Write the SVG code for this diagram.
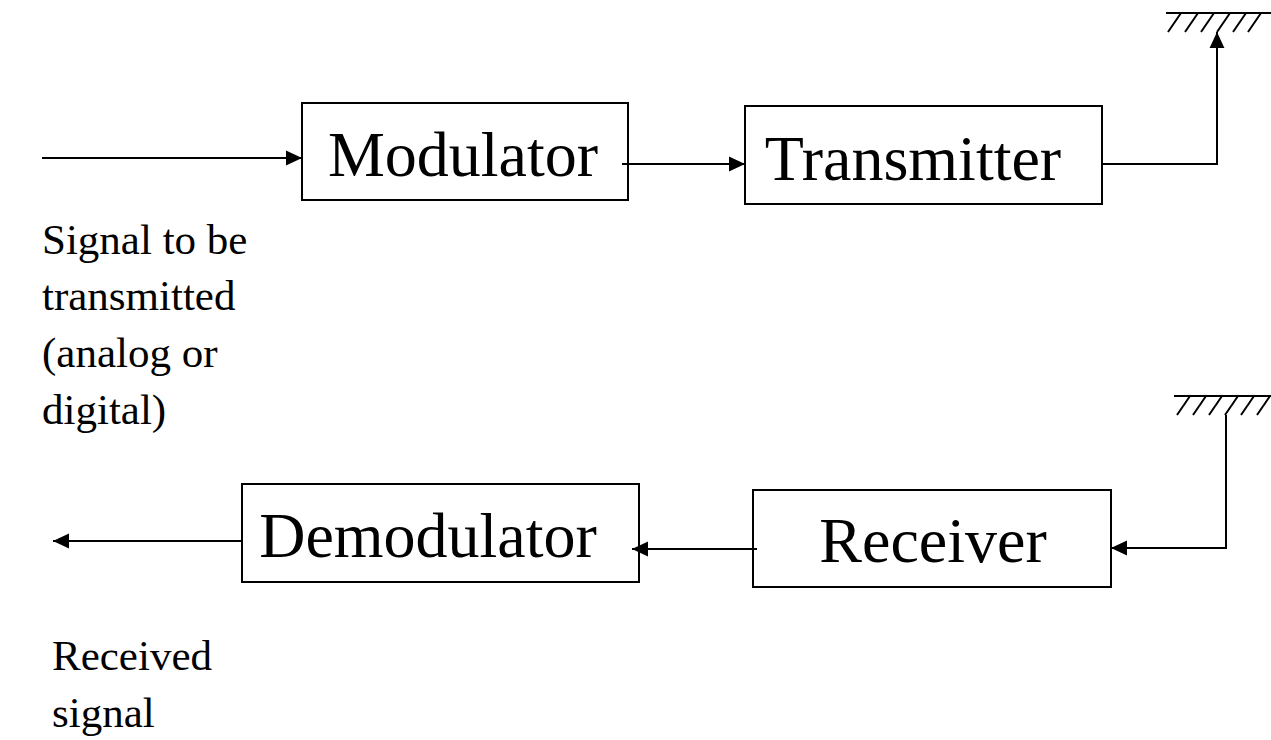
<svg xmlns="http://www.w3.org/2000/svg" width="1271" height="740" viewBox="0 0 1271 740">
  <defs>
    <marker id="arrow" markerUnits="userSpaceOnUse" markerWidth="16" markerHeight="16" viewBox="0 0 14 14" refX="14" refY="7" orient="auto">
      <path d="M0,0.5 L14,7 L0,13.5 Z" fill="#000"/>
    </marker>
  </defs>
  <style>
    .box { fill: #fff; stroke: #000; stroke-width: 2; }
    .label { font-family: "Liberation Serif", "Times New Roman", serif; font-size: 64px; fill: #000; text-anchor: middle; }
    .note { font-family: "Liberation Serif", "Times New Roman", serif; font-size: 43px; fill: #000; }
    .wire { fill: none; stroke: #000; stroke-width: 2; }
    .hatch { fill: none; stroke: #000; stroke-width: 2; }
  </style>
  <rect width="1271" height="740" fill="#fff"/>

  <!-- transmit chain -->
  <g id="modulator">
    <rect class="box" x="302" y="103" width="326" height="97"/>
    <text class="label" x="463" y="176">Modulator</text>
  </g>
  <g id="transmitter">
    <rect class="box" x="745" y="106" width="357" height="98"/>
    <text class="label" x="913" y="180">Transmitter</text>
  </g>

  <!-- receive chain -->
  <g id="demodulator">
    <rect class="box" x="242" y="484" width="397" height="98"/>
    <text class="label" x="428" y="557">Demodulator</text>
  </g>
  <g id="receiver">
    <rect class="box" x="753" y="490" width="358" height="97"/>
    <text class="label" x="933" y="562">Receiver</text>
  </g>

  <!-- antennas (ground-hatch symbol) -->
  <g id="tx-antenna">
    <line class="hatch" x1="1166" y1="13" x2="1271" y2="13"/>
    <path class="hatch" d="M1168,32 L1181,13 M1185,32 L1198,13 M1201,32 L1214,13 M1217,32 L1230,13 M1233,32 L1246,13 M1248,32 L1261,13"/>
  </g>
  <g id="rx-antenna">
    <line class="hatch" x1="1174" y1="396" x2="1271" y2="396"/>
    <path class="hatch" d="M1177,415 L1190,396 M1193,415 L1206,396 M1209,415 L1222,396 M1225,415 L1238,396 M1241,415 L1254,396 M1257,415 L1270,396"/>
  </g>

  <!-- free labels -->
  <g id="input-label">
    <text class="note" x="42" y="254">Signal to be</text>
    <text class="note" x="42" y="310">transmitted</text>
    <text class="note" x="42" y="367">(analog or</text>
    <text class="note" x="42" y="424">digital)</text>
  </g>
  <g id="output-label">
    <text class="note" x="52" y="670">Received</text>
    <text class="note" x="52" y="727">signal</text>
  </g>

  <!-- connectors -->
  <g id="connectors">
    <line class="wire" x1="42" y1="158" x2="302" y2="158" marker-end="url(#arrow)"/>
    <line class="wire" x1="622" y1="164" x2="745" y2="164" marker-end="url(#arrow)"/>
    <polyline class="wire" points="1102,164 1217,164 1217,32" marker-end="url(#arrow)"/>
    <polyline class="wire" points="1226,415 1226,548 1111,548" marker-end="url(#arrow)"/>
    <line class="wire" x1="757" y1="549" x2="632" y2="549" marker-end="url(#arrow)"/>
    <line class="wire" x1="241" y1="541" x2="53" y2="541" marker-end="url(#arrow)"/>
  </g>
</svg>
